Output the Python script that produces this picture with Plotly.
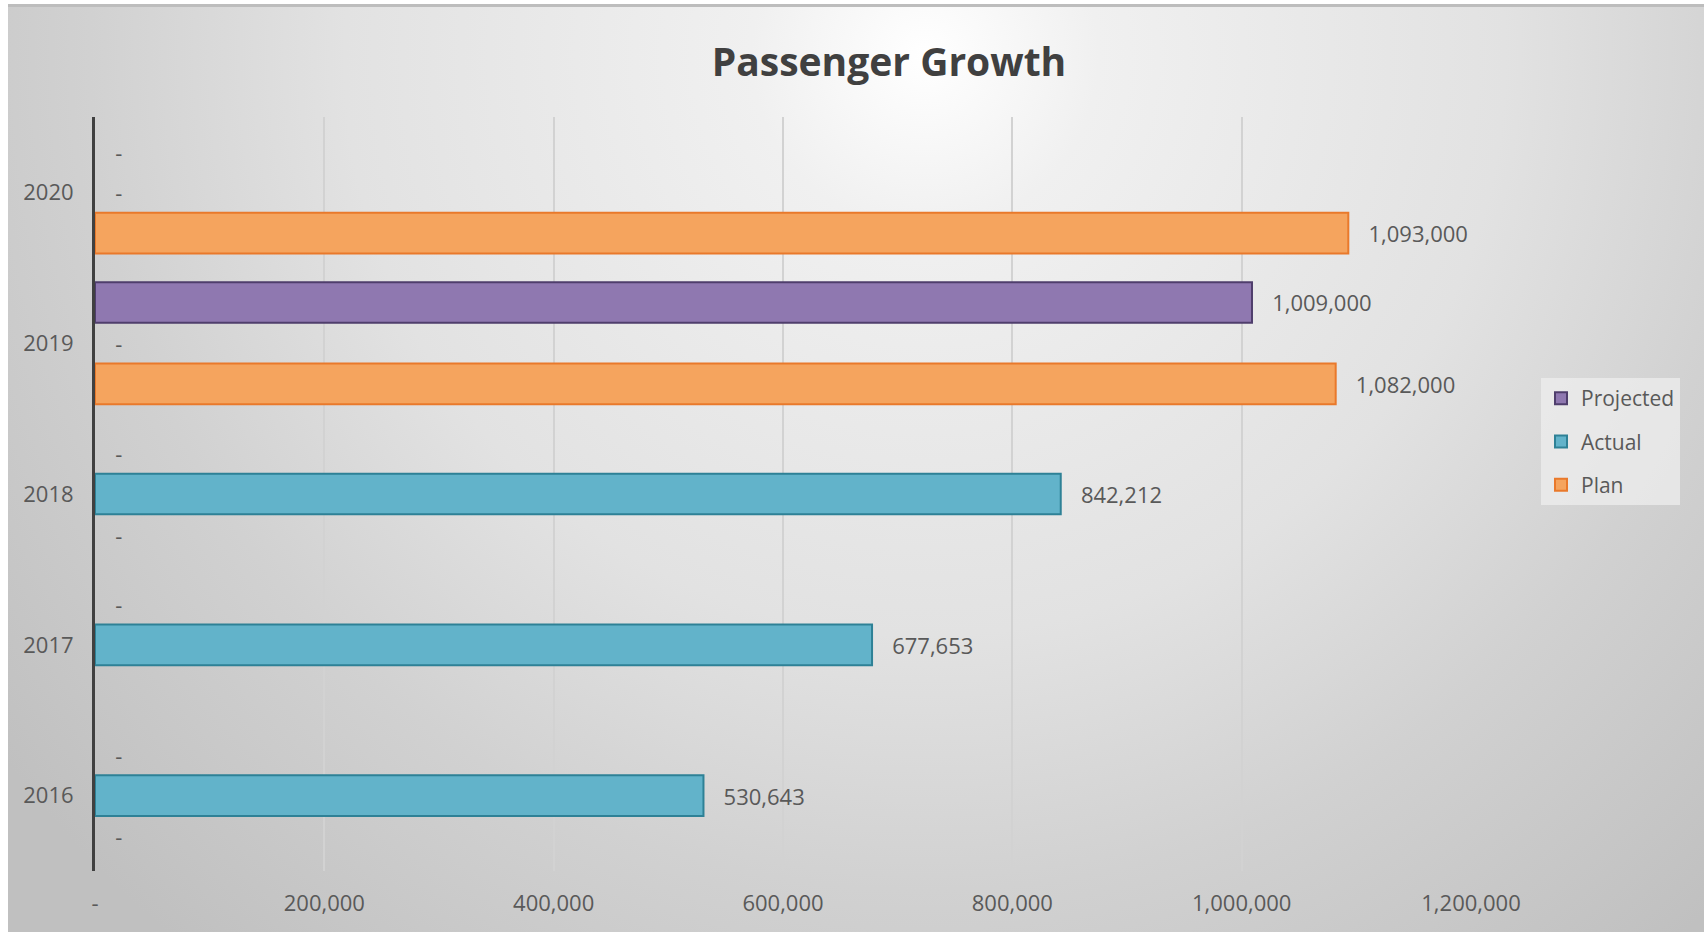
import base64
import plotly.graph_objects as go

# ---------------- data ----------------
years = ["2016", "2017", "2018", "2019", "2020"]
projected = [0, 0, 0, 1009000, 0]
actual = [530643, 677653, 842212, 0, 0]
plan = [0, None, 0, 1082000, 1093000]

x_ticks = [0, 200000, 400000, 600000, 800000, 1000000, 1200000]
x_ticktext = ["-", "200,000", "400,000", "600,000", "800,000", "1,000,000", "1,200,000"]

# ---------------- layout geometry ----------------
FW, FH = 1704, 932
ML, MR, MT, MB = 95, 233, 117, 61
PW, PH = FW - ML - MR, FH - MT - MB

FONT = "Open Sans, Lato, DejaVu Sans, sans-serif"
TXT = "#595959"
PAD = "\u00a0\u00a0\u00a0"


def label(v):
    if v is None:
        return ""
    if v == 0:
        return PAD + "-"
    return PAD + f"{v:,}"


# (name, values, fill, border, legend rank); drawn bottom-to-top inside each year
series = [
    ("Plan", plan, "#F5A45E", "#E9792B", 3),
    ("Actual", actual, "#62B3CA", "#2E8196", 2),
    ("Projected", projected, "#8F78B0", "#4F3E6C", 1),
]

fig = go.Figure()
for name, vals, fill, line, rank in series:
    # largest values first so the legend swatch takes a bordered point
    pts = sorted(zip(years, vals), key=lambda p: -1 if p[1] is None else p[1], reverse=True)
    ys = [p[0] for p in pts]
    xs = [p[1] for p in pts]
    fig.add_trace(go.Bar(
        name=name, y=ys, x=xs, orientation="h",
        marker=dict(color=fill, line=dict(color=line, width=[2 if v else 0 for v in xs])),
        text=[label(v) for v in xs], textposition="outside", cliponaxis=False,
        constraintext="none",
        outsidetextfont=dict(family=FONT, size=22, color=TXT),
        legendgroup=name, legendrank=rank,
        hoverinfo="skip",
    ))

# ---------------- background gradient ----------------
svg = f'''<svg xmlns="http://www.w3.org/2000/svg" width="{FW}" height="{FH}" viewBox="0 0 {FW} {FH}" preserveAspectRatio="none">
<defs><radialGradient id="g" gradientUnits="userSpaceOnUse" cx="925" cy="55" r="1160">
<stop offset="0" stop-color="#ffffff"/>
<stop offset="0.15" stop-color="#f0f0f0"/>
<stop offset="0.5" stop-color="#e2e2e2"/>
<stop offset="0.72" stop-color="#d1d1d1"/>
<stop offset="1" stop-color="#c0c0c0"/>
</radialGradient></defs>
<rect width="{FW}" height="{FH}" fill="#ffffff"/>
<rect x="8" y="4" width="{FW-8}" height="{FH-4}" fill="url(#g)"/>
<rect x="8" y="4" width="{FW-8}" height="3" fill="#bdbdbd"/>
</svg>'''
src = "data:image/svg+xml;base64," + base64.b64encode(svg.encode()).decode()

fig.update_layout(
    width=FW, height=FH,
    margin=dict(l=ML, r=MR, t=MT, b=MB, autoexpand=False),
    paper_bgcolor="white",
    plot_bgcolor="rgba(0,0,0,0)",
    barmode="group", bargap=0.19, bargroupgap=0,
    font=dict(family=FONT, color=TXT, size=22),
    title=dict(text="<b>Passenger Growth</b>", x=889 / FW, xref="container",
               xanchor="center", y=1 - 62 / FH, yanchor="middle",
               font=dict(family=FONT, size=39, color="#404040")),
    showlegend=True,
    legend=dict(
        x=(1541 - ML) / PW, y=(FH - MB - 378) / PH, xanchor="left", yanchor="top",
        traceorder="grouped", tracegroupgap=13,
        bgcolor="rgba(238,238,238,0.75)", borderwidth=0,
        font=dict(family=FONT, size=21, color=TXT),
        itemwidth=30,
    ),
    images=[dict(
        source=src, xref="paper", yref="paper",
        x=-ML / PW, y=1 + MT / PH, sizex=FW / PW, sizey=FH / PH,
        xanchor="left", yanchor="top", sizing="stretch", layer="below",
    )],
)

fig.update_xaxes(
    range=[0, 1200000], tickvals=x_ticks, ticktext=x_ticktext,
    showgrid=True, gridcolor="#D2D2D2", gridwidth=1.5,
    zeroline=False, showline=False, ticks="",
    ticklabelstandoff=17,
    tickfont=dict(family=FONT, size=22, color=TXT),
)
fig.update_yaxes(
    type="category", categoryorder="array", categoryarray=years,
    showgrid=False, zeroline=False,
    showline=True, linecolor="#404040", linewidth=3, ticks="",
    ticklabelstandoff=14,
    tickfont=dict(family=FONT, size=22, color=TXT),
)

fig.write_html("out.html")
